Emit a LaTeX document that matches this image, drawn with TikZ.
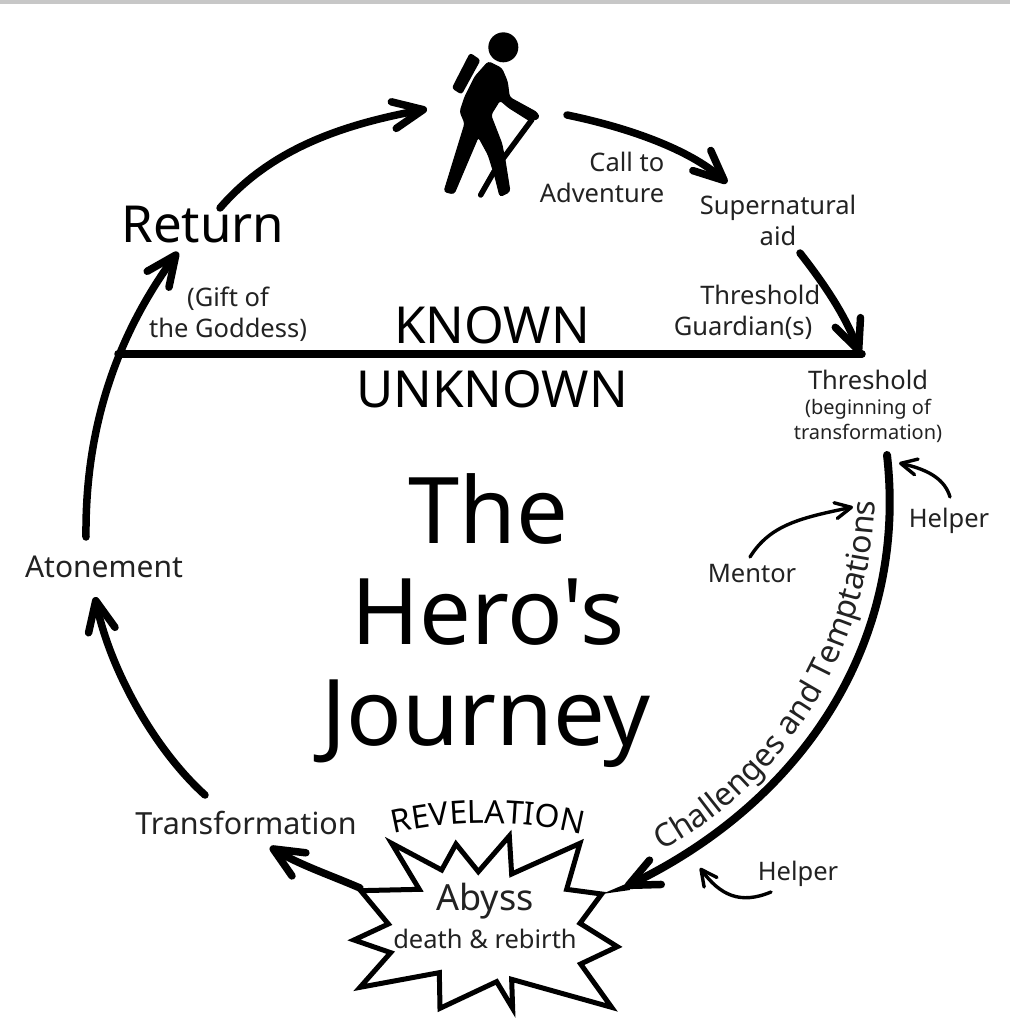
\documentclass[tikz,border=0pt]{standalone}
\usepackage{fontspec}
\setmainfont{Noto Sans}[Ligatures=TeXOff]
\usetikzlibrary{arrows.meta,decorations.text}
\definecolor{ink}{HTML}{222222}
\tikzset{
  x=1pt,y=-1pt,
  lab/.style={text=ink,inner sep=0pt,font=\fontsize{25.5}{31}\selectfont,align=center},
  smalllab/.style={text=ink,inner sep=0pt,font=\fontsize{20}{25}\selectfont,align=center},
  big/.style={text=black,inner sep=0pt,anchor=base,font=\fontsize{51}{60}\selectfont},
  huge/.style={text=black,inner sep=0pt,anchor=base,font=\fontsize{92}{100}\selectfont},
  mainarrow/.style={line width=7.5pt,line cap=round,-{Straight Barb[length=30pt,width=27pt,line width=7.5pt,round]}},
  thinarrow/.style={line width=3.4pt,line cap=round,-{Straight Barb[length=16pt,width=16pt,line width=3.4pt,round]}},
}
\begin{document}
\begin{tikzpicture}
\useasboundingbox (0,0) rectangle (1010,1024);
\fill[white] (0,0) rectangle (1010,1024);
\fill[black!22] (0,0) rectangle (1010,4);

% hiker
\begin{scope}[shift={(420,20)},x=0.3333pt,y=-0.3333pt]
  \fill (250,82) circle (45);
  \fill[rounded corners=3pt] (150,98) -- (182,120) -- (125,224) -- (95,205) -- cycle;
  \draw[line width=5.5pt,line cap=round] (335,300) -- (250,415);
  \draw[line width=5.5pt,line cap=round] (222,455) -- (182,525);
  \filldraw[line width=1pt,rounded corners=3pt] (205,125) -- (245,145) -- (262,185) -- (268,232) -- (352,278) -- (358,295) -- (330,303) -- (265,262) -- (240,240) -- (212,285) -- (245,370) -- (255,420) -- (270,515) -- (240,530) -- (225,470) -- (205,405) -- (175,350) -- (102,522) -- (72,515) -- (135,310) -- (120,275) -- (135,230) -- (165,170) -- cycle;
\end{scope}

% abyss star
\begin{scope}[shift={(330,780)},x=0.3333pt,y=-0.3333pt]
  \draw[line width=5pt,miter limit=10,fill=white] (185,190) -- (335,270) -- (378,192) -- (445,275) -- (538,168) -- (545,282) -- (750,190) -- (710,328) -- (815,342) -- (750,430) -- (862,500) -- (752,552) -- (845,682) -- (545,598) -- (548,685) -- (500,605) -- (330,685) -- (328,578) -- (90,622) -- (182,518) -- (72,480) -- (175,432) -- (92,332) -- (268,328) -- cycle;
\end{scope}

% labels
\node[big] (ret) at (203,242) {Return};
\node[lab,align=right] (call) at (602,177) {Call to\\Adventure};
\node[lab] (super) at (778,220) {Supernatural\\aid};
\node[lab] (gift) at (228,314) {(Gift of\\the Goddess)};
\node[lab,align=right] (guard) at (747,312) {Threshold\\Guardian(s)\hspace*{8pt}};
\node[big] (known) at (492,343) {KNOWN};
\node[big] (unknown) at (492,407) {UNKNOWN};
\node[lab] (thr) at (868,380) {Threshold};
\node[smalllab] (beg) at (868,421) {(beginning of\\transformation)};
\node[huge] (the) at (488,543) {The};
\node[huge] (hero) at (488,644) {Hero's};
\node[huge] (jour) at (486,745) {Journey};
\node[lab] (help1) at (949,521) {Helper};
\node[lab] (ment) at (752,574) {Mentor};
\node[lab,font=\fontsize{30}{36}\selectfont] (aton) at (104,567) {Atonement};
\node[lab,font=\fontsize{30.5}{36}\selectfont] (trans) at (246,823) {Transformation};
\node[lab] (help2) at (798,874) {Helper};
\node[lab,font=\fontsize{36}{42}\selectfont] (aby) at (485,901) {Abyss};
\node[lab,font=\fontsize{25.5}{31}\selectfont] (death) at (485,939) {death \& rebirth};

% free ends
\coordinate (a1) at (220,208); \coordinate (b1) at (427,109);
\coordinate (a2) at (567,115); \coordinate (b2) at (727,183);
\coordinate (a3) at (800,253); \coordinate (b3) at (860,354);
\coordinate (l1) at (118,354); \coordinate (l2) at (862,354);
\coordinate (a4) at (887,455); \coordinate (b4) at (625,887);
\coordinate (a5) at (360,888); \coordinate (b5) at (270,847);
\coordinate (a6) at (205,795); \coordinate (b6) at (95,597);
\coordinate (a7) at (86,537); \coordinate (b7) at (178,252);
\coordinate (m1) at (750,557); \coordinate (m2) at (853,507);
\coordinate (h1) at (950,497); \coordinate (h2) at (899,463);
\coordinate (h3) at (771,892); \coordinate (h4) at (700,868);

% connectors
\draw[mainarrow] (a1) .. controls (270,150) and (340,125) .. (b1);
\draw[mainarrow] (a2) .. controls (630,128) and (690,150) .. (b2);
\draw[mainarrow] (a3) .. controls (825,285) and (845,315) .. (b3);
\draw[line width=7.5pt,line cap=round] (l1) -- (l2);
\draw[mainarrow,line width=8pt] (a4) .. controls (908,640) and (805,800) .. (b4);
\fill (628,883) -- (630,890) -- (602,894) -- cycle;
\draw[mainarrow] (a5) .. controls (330,875) and (300,865) .. (b5);
\draw[mainarrow] (a6) .. controls (155,750) and (110,670) .. (b6);
\draw[mainarrow] (a7) .. controls (85,440) and (110,345) .. (b7);
\draw[thinarrow] (m1) .. controls (770,525) and (800,518) .. (m2);
\draw[thinarrow] (h1) .. controls (945,480) and (930,470) .. (h2);
\draw[thinarrow] (h3) .. controls (740,905) and (720,895) .. (h4);

% curved text
\path[decorate,decoration={text along path,text align=center,
  text={|\fontsize{32}{38}\selectfont\color{ink}|Challenges and Temptations}}]
  (656,853) .. controls (780,792) and (873,650) .. (875,495);
\path[decorate,decoration={text along path,text align=center,
  text={|\fontsize{32}{38}\selectfont\color{black}|REVELATION}}]
  (388,835) .. controls (450,819) and (525,819) .. (588,836);
\end{tikzpicture}
\end{document}
